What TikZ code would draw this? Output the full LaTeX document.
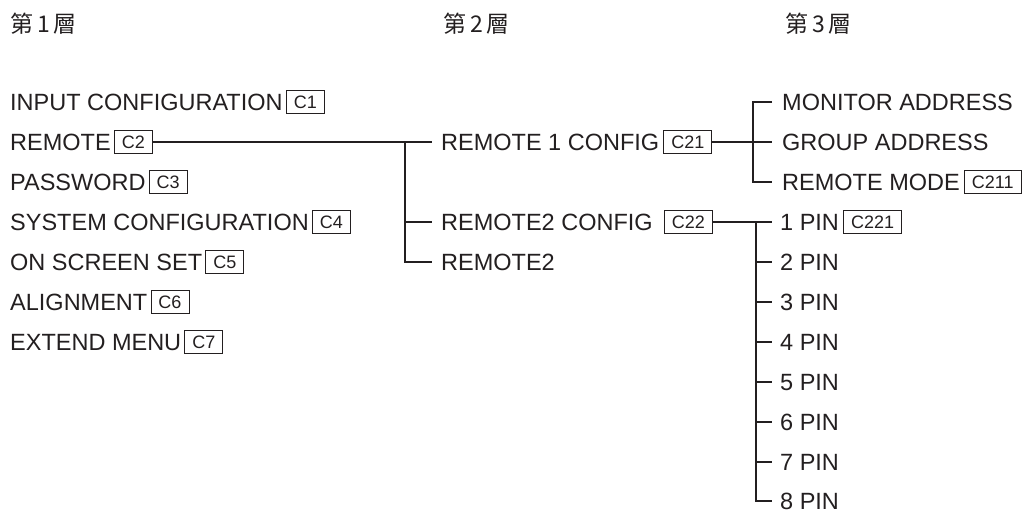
\documentclass[tikz,border=0pt]{standalone}
\usepackage{fontspec}
\setmainfont{Liberation Sans}
\newfontfamily\cjk{Noto Sans CJK TC}
\usepackage{tikz}
\usetikzlibrary{positioning}
\definecolor{ink}{HTML}{231F20}

\begin{document}
\begin{tikzpicture}[x=1pt,y=-1pt,
  every node/.style={text=ink},
  head/.style={anchor=west,inner sep=0pt,font=\fontsize{23}{26}\cjk},
  item/.style={anchor=west,inner xsep=0pt,inner ysep=0pt,
               text height=16.8pt,text depth=0pt,font=\fontsize{23.5}{28}\selectfont},
  code/.style={draw=ink,line width=0.9pt,inner xsep=7.5pt,inner ysep=4.8pt,
               text height=12.9pt,text depth=0pt,font=\fontsize{18}{20}\selectfont},
  tree/.style={draw=ink,line width=1.2pt}
]
\useasboundingbox (0,0) rectangle (1025,511);

% layer headings
\node[head] (h1) at (10,23.5)  {第\,1\,層};
\node[head] (h2) at (443,23.5) {第\,2\,層};
\node[head] (h3) at (785,23.5) {第\,3\,層};

% layer 1
\node[item] (l1) at (10,102) {INPUT CONFIGURATION};
\node[code,right=3pt of l1] (c1) {C1};
\node[item] (l2) at (10,142) {REMOTE};
\node[code,right=3pt of l2] (c2) {C2};
\node[item] (l3) at (10,182) {PASSWORD};
\node[code,right=3pt of l3] (c3) {C3};
\node[item] (l4) at (10,222) {SYSTEM CONFIGURATION};
\node[code,right=3pt of l4] (c4) {C4};
\node[item] (l5) at (10,262) {ON SCREEN SET};
\node[code,right=3pt of l5] (c5) {C5};
\node[item] (l6) at (10,302) {ALIGNMENT};
\node[code,right=3pt of l6] (c6) {C6};
\node[item] (l7) at (10,342) {EXTEND MENU};
\node[code,right=3pt of l7] (c7) {C7};

% layer 2
\node[item] (m1) at (441,142) {REMOTE 1 CONFIG};
\node[code,right=4pt of m1] (c21) {C21};
\node[item] (m2) at (441,222) {REMOTE2 CONFIG};
\node[code,right=11pt of m2] (c22) {C22};
\node[item] (m3) at (441,262) {REMOTE2};

% layer 3
\node[item] (n1) at (782,102) {MONITOR ADDRESS};
\node[item] (n2) at (782,142) {GROUP ADDRESS};
\node[item] (n3) at (782,182) {REMOTE MODE};
\node[code,right=4pt of n3] (c211) {C211};
\node[item] (p1) at (780,222) {1 PIN};
\node[code,right=4pt of p1] (c221) {C221};
\node[item] (p2) at (780,262) {2 PIN};
\node[item] (p3) at (780,302) {3 PIN};
\node[item] (p4) at (780,342) {4 PIN};
\node[item] (p5) at (780,382) {5 PIN};
\node[item] (p6) at (780,422) {6 PIN};
\node[item] (p7) at (780,462) {7 PIN};
\node[item] (p8) at (780,501) {8 PIN};

% bus lines
\coordinate (b1) at (405,0);
\coordinate (ba) at (753,0);
\coordinate (bb) at (756,0);

\draw[tree] (c2.east) -- ([xshift=-9pt]m1.west);
\draw[tree] (b1 |- m1) |- ([xshift=-9pt]m3.west);
\draw[tree] (b1 |- m2) -- ([xshift=-9pt]m2.west);

\draw[tree] (c21.east) -- ([xshift=-10pt]n2.west);
\draw[tree] ([xshift=-10pt]n1.west) -| (ba |- n2) |- ([xshift=-10pt]n3.west);

\draw[tree] (c22.east) -- ([xshift=-8pt]p1.west);
\draw[tree] (bb |- p1) |- ([xshift=-8pt]p8.west);
\draw[tree] (bb |- p2) -- ([xshift=-8pt]p2.west);
\draw[tree] (bb |- p3) -- ([xshift=-8pt]p3.west);
\draw[tree] (bb |- p4) -- ([xshift=-8pt]p4.west);
\draw[tree] (bb |- p5) -- ([xshift=-8pt]p5.west);
\draw[tree] (bb |- p6) -- ([xshift=-8pt]p6.west);
\draw[tree] (bb |- p7) -- ([xshift=-8pt]p7.west);
\end{tikzpicture}
\end{document}
